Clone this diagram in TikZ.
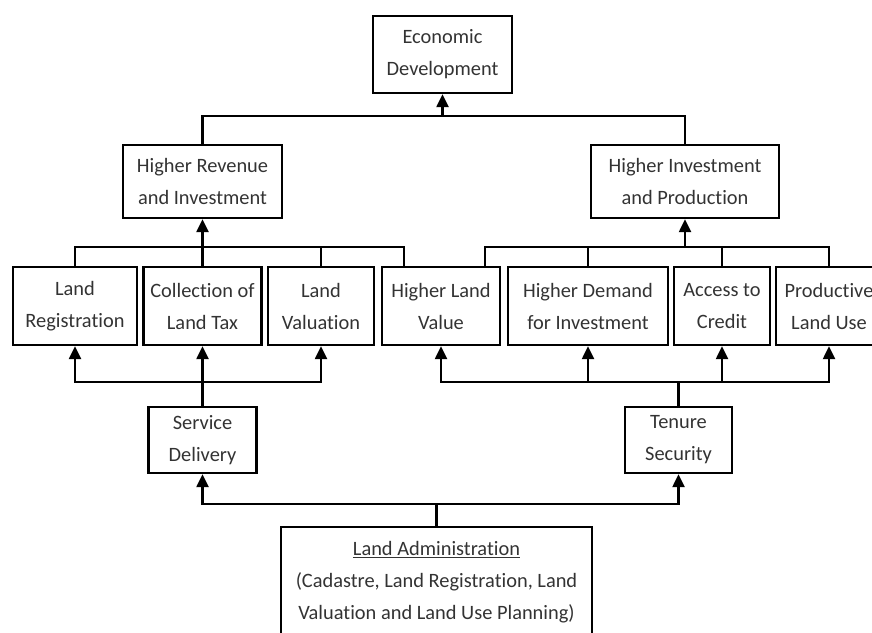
\documentclass[tikz,border=0pt]{standalone}
\usepackage{fontspec}
\setmainfont{Carlito}[Ligatures=NoCommon]
\usetikzlibrary{arrows.meta}
\begin{document}
\begin{tikzpicture}[x=1pt,y=-1pt,line width=2.4pt,
	box/.style={draw,align=center,inner sep=0pt,text=black!80,
		font=\fontsize{20.4}{32}\selectfont},
	arr/.style={-{Triangle[length=13pt,width=12pt]}}]
	\clip (0,0) rectangle (872,632);
	% goal
	\node[box,minimum width=139pt,minimum height=77pt] (econ) at (442.5,54.5) {Economic\\Development};
	% second level
	\node[box,minimum width=159pt,minimum height=73pt] (rev) at (202.5,181.5) {Higher Revenue\\and Investment};
	\node[box,minimum width=188pt,minimum height=73pt] (inv) at (685,181.5) {Higher Investment\\and Production};
	% effects
	\node[box,minimum width=124pt,minimum height=78pt] (reg) at (75,306) {Land\\Registration};
	\node[box,minimum width=118pt,minimum height=78pt] (tax) at (202.5,306) {Collection of\\Land Tax};
	\node[box,minimum width=106pt,minimum height=78pt] (val) at (321,306) {Land\\Valuation};
	\node[box,minimum width=118pt,minimum height=78pt] (value) at (441,306) {Higher Land\\Value};
	\node[box,minimum width=160pt,minimum height=78pt] (demand) at (588,306) {Higher Demand\\for Investment};
	\node[box,minimum width=96pt,minimum height=78pt] (credit) at (722,306) {Access to\\Credit};
	\node[box,minimum width=106pt,minimum height=78pt] (use) at (829,306) {Productive\\Land Use};
	% outcomes
	\node[box,minimum width=108pt,minimum height=66pt] (service) at (202.5,440) {Service\\Delivery};
	\node[box,minimum width=107pt,minimum height=66pt] (tenure) at (678.5,440) {Tenure\\Security};
	% base
	\node[box,minimum width=311pt,minimum height=110pt] (admin) at (436.5,582) {\underline{Land Administration}\\(Cadastre, Land Registration, Land\\Valuation and Land Use Planning)};
	% bus lines
	\coordinate (b1) at (0,116);
	\coordinate (b2) at (0,247);
	\coordinate (b3) at (0,382);
	\coordinate (b4) at (0,504);
	\coordinate (vL) at ([xshift=-37pt]value.north);
	\coordinate (vR) at ([xshift=44pt]value.north);
	% top
	\draw (rev.north) |- (b1 -| inv.north) -- (inv.north);
	\draw[arr] (b1 -| econ.south) -- (econ.south);
	% left group
	\draw (reg.north) |- (b2 -| vL) -- (vL);
	\draw (val.north) -- (val.north |- b2);
	\draw[arr] (tax.north) -- (rev.south);
	% right group
	\draw (vR) |- (b2 -| use.north) -- (use.north);
	\draw (demand.north) -- (demand.north |- b2);
	\draw (credit.north) -- (credit.north |- b2);
	\draw[arr] (b2 -| inv.south) -- (inv.south);
	% service delivery
	\draw[arr] (service.north) -- (tax.south);
	\draw[arr] (b3 -| service.north) -| (reg.south);
	\draw[arr] (b3 -| service.north) -| (val.south);
	% tenure security
	\draw (tenure.north) -- (tenure.north |- b3);
	\foreach \n in {value,demand,credit,use}
		\draw[arr] (b3 -| tenure.north) -| (\n.south);
	% land administration
	\draw (admin.north) -- (admin.north |- b4);
	\draw[arr] (b4 -| admin.north) -| (service.south);
	\draw[arr] (b4 -| admin.north) -| (tenure.south);
\end{tikzpicture}
\end{document}
